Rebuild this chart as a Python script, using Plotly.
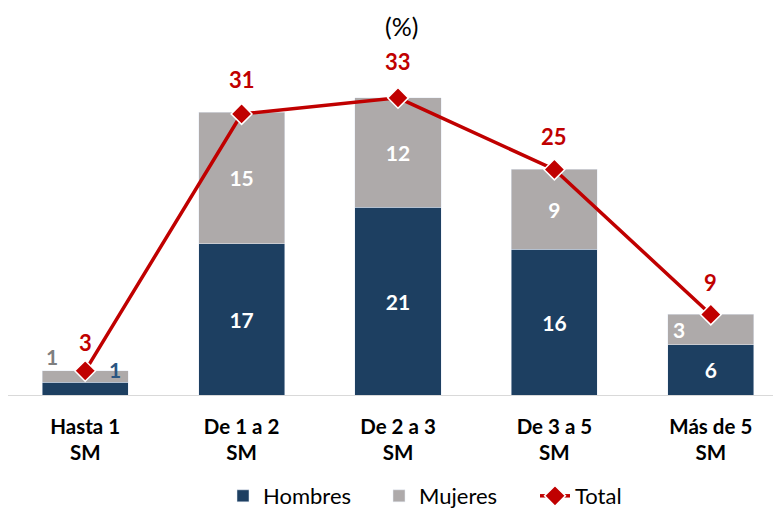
import plotly.graph_objects as go

categories = ["Hasta 1<br>SM", "De 1 a 2<br>SM", "De 2 a 3<br>SM", "De 3 a 5<br>SM", "Más de 5<br>SM"]
hombres = [1.4, 16.9, 21.0, 16.3, 5.6]
mujeres = [1.3, 14.7, 12.2, 8.9, 3.4]
total = [2.7, 31.4, 33.2, 25.2, 9.0]

C_H = "#1D3F61"
C_M = "#AEAAAA"
C_T = "#C00000"
FONT = "Lato"

# page body has an 8px margin: work in figure coords = screen - 8
OFF = 8
W, H = 781 - OFF, 510 - OFF
PX_UNIT = 156.4          # px per category
PLOT_X0_SCREEN = 7       # where category -0.5 sits on screen
BASE_SCREEN = 395        # baseline y on screen
TOP_SCREEN = 40
K = 8.95                 # px per percentage unit

x_lo = -0.5 + (OFF - PLOT_X0_SCREEN) / PX_UNIT
x_hi = x_lo + W / PX_UNIT
t_m = TOP_SCREEN - OFF
b_m = H - (BASE_SCREEN - OFF)
plot_h = BASE_SCREEN - TOP_SCREEN

special_h = {0}
special_m = {0, 4}
text_h = ["" if i in special_h else f"{v:.0f}" for i, v in enumerate(hombres)]
text_m = ["" if i in special_m else f"{v:.0f}" for i, v in enumerate(mujeres)]

lab_font = dict(family=FONT, size=21, color="white", weight="bold")

fig = go.Figure()
fig.add_trace(go.Bar(
    x=categories, y=hombres, name="Hombres", marker_color=C_H,
    text=text_h, texttemplate="%{text}", textposition="inside",
    insidetextanchor="middle", textangle=0, textfont=lab_font, hoverinfo="skip"))
fig.add_trace(go.Bar(
    x=categories, y=mujeres, name="Mujeres", marker_color=C_M,
    text=text_m, texttemplate="%{text}", textposition="inside",
    insidetextanchor="middle", textangle=0, textfont=lab_font, hoverinfo="skip"))
fig.add_trace(go.Scatter(
    x=categories, y=total, name="Total", mode="lines+markers",
    line=dict(color=C_T, width=3.5),
    marker=dict(symbol="diamond", size=16, color=C_T, line=dict(color="white", width=1.5)),
    hoverinfo="skip"))

annotations = []
total_shift = [28, 34, 36, 33, 32]
for c, v, s in zip(categories, total, total_shift):
    annotations.append(dict(x=c, y=v, text=f"{v:.0f}", showarrow=False, yshift=s,
                            font=dict(family=FONT, size=22, color=C_T, weight="bold")))
annotations.append(dict(x=categories[0], y=hombres[0] + mujeres[0], text=f"{mujeres[0]:.0f}",
                        showarrow=False, xshift=-33, yshift=14,
                        font=dict(family=FONT, size=21, color="#7F7F7F", weight="bold")))
annotations.append(dict(x=categories[0], y=hombres[0] + mujeres[0], text=f"{hombres[0]:.0f}",
                        showarrow=False, xshift=30, yshift=1,
                        font=dict(family=FONT, size=21, color="#2B5682", weight="bold")))
annotations.append(dict(x=categories[4], y=hombres[4] + mujeres[4] / 2, text=f"{mujeres[4]:.0f}",
                        showarrow=False, xshift=-32, font=lab_font))
annotations.append(dict(xref="paper", yref="paper",
                        x=(401 - OFF) / W, y=(BASE_SCREEN - 26) / plot_h,
                        text="(%)", showarrow=False, yanchor="middle", xanchor="center",
                        font=dict(family=FONT, size=25, color="black")))

fig.update_layout(
    width=W, height=H,
    margin=dict(l=0, r=0, t=t_m, b=b_m, autoexpand=False),
    barmode="stack", bargap=0.45,
    plot_bgcolor="white", paper_bgcolor="white",
    showlegend=True,
    legend=dict(orientation="h", xref="container", yref="container",
                x=(223 - OFF) / W, xanchor="left",
                y=(510 - 496) / H, yanchor="middle",
                font=dict(family=FONT, size=22, color="black"),
                traceorder="normal", itemwidth=30, entrywidth=111),
    annotations=annotations,
    font=dict(family=FONT),
)
fig.update_xaxes(range=[x_lo, x_hi], showline=True, linecolor="#D9D9D9", linewidth=1,
                 showgrid=False, ticks="outside", ticklen=13, tickcolor="rgba(0,0,0,0)",
                 tickfont=dict(family=FONT, size=20.5, color="black", weight="bold"))
fig.update_yaxes(range=[0, plot_h / K], visible=False, showgrid=False, zeroline=False)

fig.write_html("out.html")
